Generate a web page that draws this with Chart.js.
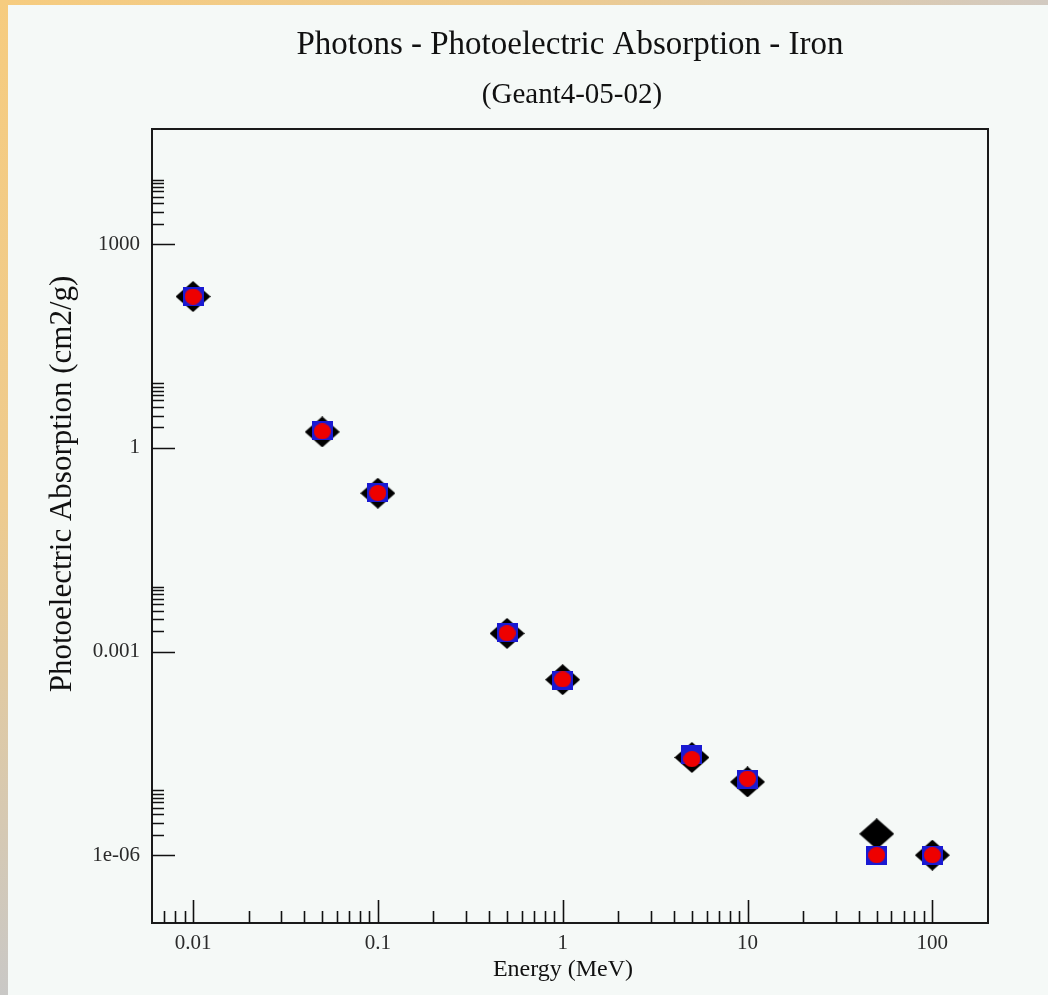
<!DOCTYPE html>
<html>
<head>
<meta charset="utf-8">
<script src="https://cdn.jsdelivr.net/npm/chart.js@4.4.0/dist/chart.umd.min.js"></script>
<style>
  html, body { margin: 0; padding: 0; }
  body { width: 1048px; height: 995px; position: relative; overflow: hidden; background: #f5f9f7; }
  #topbar { position: absolute; left: 0; top: 0; width: 1048px; height: 5px;
            background: linear-gradient(to right, #f6cc7f, #eccb92 55%, #d2cac1); }
  #leftbar { position: absolute; left: 0; top: 0; width: 8px; height: 995px;
             background: linear-gradient(to bottom, #f6cc7f, #eecb8e 50%, #c9c8c6); }
  #wrap { position: absolute; left: 0; top: 0; width: 1048px; height: 995px; }
</style>
</head>
<body>
<div id="topbar"></div>
<div id="leftbar"></div>
<div id="wrap"><canvas id="c" width="1048" height="995"></canvas></div>
<script>
// Photon energies (MeV)
const energies = [0.01, 0.05, 0.1, 0.5, 1, 5, 10, 50, 100];
// Photoelectric mass attenuation of iron (cm2/g), three data sets
const referenceValues = [170, 1.72, 0.215, 1.85e-3, 3.85e-4, 2.75e-5, 1.2e-5, 2.06e-6, 1.0e-6];
const standardValues  = [172, 1.8, 0.217, 1.9e-3, 3.8e-4, 3.0e-5, 1.3e-5, 1.0e-6, 1.0e-6];
const lowEnergyValues = [170, 1.75, 0.217, 1.86e-3, 3.88e-4, 2.6e-5, 1.34e-5, 1.0e-6, 1.0e-6];

// Axis ticks
const xTickValues = [0.01, 0.1, 1, 10, 100];
const xTickLabels = ['0.01', '0.1', '1', '10', '100'];
const yTickValues = [1e-6, 1e-3, 1, 1000];
const yTickLabels = ['1e-06', '0.001', '1', '1000'];
const minorSteps = [2, 3, 4, 5, 6, 7, 8, 9];

const xRange = [0.006, 200];
const yRange = [1e-7, 5e4];

const serif = "'Liberation Serif', 'Times New Roman', serif";

function toPoints(values) {
  return energies.map((e, i) => ({ x: e, y: values[i] }));
}

// Marker sprites (slightly wider than tall)
function marker(kind, w, h, color) {
  const c = document.createElement('canvas');
  c.width = w; c.height = h;
  const g = c.getContext('2d');
  g.fillStyle = color;
  g.beginPath();
  if (kind === 'diamond') {
    g.moveTo(w / 2, 0); g.lineTo(w, h / 2); g.lineTo(w / 2, h); g.lineTo(0, h / 2);
    g.closePath();
  } else if (kind === 'square') {
    g.rect(0, 0, w, h);
  } else {
    g.ellipse(w / 2, h / 2, w / 2, h / 2, 0, 0, Math.PI * 2);
  }
  g.fill();
  return c;
}

// Frame and inward-pointing log ticks
const frameTicks = {
  id: 'frameTicks',
  beforeDatasetsDraw(chart) {
    const { ctx, chartArea: a, scales: { x, y } } = chart;
    ctx.save();
    ctx.strokeStyle = '#1a1a1a';
    ctx.lineWidth = 2;
    ctx.strokeRect(a.left, a.top, a.right - a.left, a.bottom - a.top);
    ctx.lineWidth = 1.6;
    ctx.strokeStyle = '#111';
    ctx.beginPath();
    const e0 = Math.floor(Math.log10(x.min)), e1 = Math.ceil(Math.log10(x.max));
    for (let e = e0; e <= e1; e++) {
      for (let m = 1; m <= 9; m++) {
        const v = m * Math.pow(10, e);
        if (v <= x.min || v >= x.max) continue;
        const px = Math.round(x.getPixelForValue(v)) + 0.5;
        const len = m === 1 ? 23 : 12;
        ctx.moveTo(px, a.bottom);
        ctx.lineTo(px, a.bottom - len);
      }
    }
    yTickValues.forEach(major => {
      const py = Math.round(y.getPixelForValue(major)) + 0.5;
      ctx.moveTo(a.left, py);
      ctx.lineTo(a.left + 23, py);
      minorSteps.forEach(m => {
        const v = m * major;
        if (v >= y.max) return;
        const p = Math.round(y.getPixelForValue(v)) + 0.5;
        ctx.moveTo(a.left, p);
        ctx.lineTo(a.left + 12, p);
      });
    });
    ctx.stroke();
    ctx.restore();
  },
  afterDraw(chart) {
    const { ctx } = chart;
    ctx.save();
    ctx.fillStyle = '#111';
    ctx.textAlign = 'center';
    ctx.textBaseline = 'middle';
    ctx.font = `33px ${serif}`;
    ctx.fillText('Photons - Photoelectric Absorption - Iron', 570, 45);
    ctx.font = `29px ${serif}`;
    ctx.fillText('(Geant4-05-02)', 572, 95);
    ctx.font = `24px ${serif}`;
    ctx.fillText('Energy (MeV)', 563, 970);
    ctx.translate(63, 484);
    ctx.rotate(-Math.PI / 2);
    ctx.font = `31px ${serif}`;
    ctx.fillText('Photoelectric Absorption (cm2/g)', 0, 0);
    ctx.restore();
  }
};

new Chart(document.getElementById('c'), {
  type: 'scatter',
  data: {
    datasets: [
      { label: 'Low energy', data: toPoints(lowEnergyValues), order: 1,
        pointStyle: marker('circle', 17, 16, '#ee0000'), backgroundColor: '#ee0000' },
      { label: 'Standard', data: toPoints(standardValues), order: 2,
        pointStyle: marker('square', 21, 19, '#1a1ad2'), backgroundColor: '#1a1ad2' },
      { label: 'Reference', data: toPoints(referenceValues), order: 3,
        pointStyle: marker('diamond', 35, 31, '#000000'), backgroundColor: '#000000' }
    ]
  },
  options: {
    responsive: false,
    animation: false,
    events: [],
    layout: { padding: { top: 129, right: 60, bottom: 0, left: 0 } },
    plugins: { legend: { display: false }, title: { display: false }, tooltip: { enabled: false } },
    scales: {
      x: {
        type: 'logarithmic', min: xRange[0], max: xRange[1],
        afterFit: s => { s.height = 72; },
        afterBuildTicks: s => { s.ticks = xTickValues.map(v => ({ value: v })); },
        grid: { display: false, drawTicks: false },
        border: { display: false },
        ticks: { autoSkip: false, maxRotation: 0, padding: 8, color: '#2a2a2a',
                 font: { family: serif, size: 21 },
                 callback: (v, i) => xTickLabels[i] }
      },
      y: {
        type: 'logarithmic', min: yRange[0], max: yRange[1],
        afterFit: s => { s.width = 152; },
        afterBuildTicks: s => { s.ticks = yTickValues.map(v => ({ value: v })); },
        grid: { display: false, drawTicks: false },
        border: { display: false },
        ticks: { autoSkip: false, padding: 12, color: '#2a2a2a',
                 font: { family: serif, size: 21 },
                 callback: (v, i) => yTickLabels[i] }
      }
    }
  },
  plugins: [frameTicks]
});
</script>
</body>
</html>
